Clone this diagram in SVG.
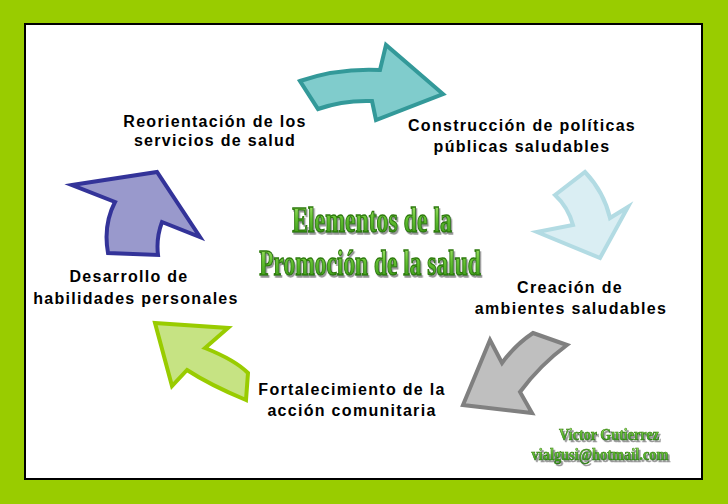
<svg xmlns="http://www.w3.org/2000/svg" width="728" height="504" viewBox="0 0 728 504">
<defs>
<linearGradient id="gw" x1="0" y1="0" x2="0" y2="1">
<stop offset="0" stop-color="#b4ec7c"/>
<stop offset="0.45" stop-color="#66c233"/>
<stop offset="1" stop-color="#2f8f12"/>
</linearGradient>
<filter id="sh" x="-10%" y="-20%" width="130%" height="160%">
<feDropShadow dx="2" dy="2" stdDeviation="0.6" flood-color="#8a8a8a" flood-opacity="0.9"/>
</filter>
</defs>
<style>
.lbl{font-family:"Liberation Sans",Arial,sans-serif;font-weight:bold;font-size:16px;letter-spacing:1.3px;fill:#000;text-anchor:middle}
.wa{font-family:"Liberation Serif","Times New Roman",serif;font-weight:bold;text-anchor:middle;fill:url(#gw);stroke:#2d7a0c;stroke-width:1.3;filter:url(#sh)}
.arr{stroke-linejoin:miter;stroke-width:4}
</style>
<rect x="0" y="0" width="728" height="504" fill="#99cc00"/>
<rect x="25" y="24" width="677" height="455" fill="#fff" stroke="#000" stroke-width="2"/>

<g id="connectors">
<path class="arr" d="M300,81 Q338,68 380,70 L386,45 L443,94 L376,120 L372,101 Q343,100 318,109 Z" fill="#80cccc" stroke="#339999"/>
<path class="arr" d="M555,195 L585,172 Q604,192 610,218 L628,207 L600,258 L537,232 L573,225 Q568,207 555,195 Z" fill="#daeef3" stroke="#b2dbe3"/>
<path class="arr" d="M533,333 L567,345 Q540,365 520,392 L532,413 L463,405 L490,340 L502,363 Q515,345 533,333 Z" fill="#bfbfbf" stroke="#808080"/>
<path class="arr" d="M155,323 L228,328 L205,348 Q235,360 248,373 L246,400 Q210,385 187,370 L172,386 Z" fill="#c6e383" stroke="#99cc00"/>
<path class="arr" d="M72,185 L157,172 L200,237 L162,222 Q156,238 158,255 L108,253 Q103,225 115,202 Z" fill="#9999cc" stroke="#333399"/>
</g>

<g id="n-reorientacion">
<text class="lbl" x="215" y="127">Reorientación de los</text>
<text class="lbl" x="215" y="146">servicios de salud</text>
</g>
<g id="n-construccion">
<text class="lbl" x="522" y="131">Construcción de políticas</text>
<text class="lbl" x="522" y="152">públicas saludables</text>
</g>
<g id="n-creacion">
<text class="lbl" x="570" y="293">Creación de</text>
<text class="lbl" x="571" y="314">ambientes saludables</text>
</g>
<g id="n-fortalecimiento">
<text class="lbl" x="352" y="395">Fortalecimiento de la</text>
<text class="lbl" x="352" y="416">acción comunitaria</text>
</g>
<g id="n-desarrollo">
<text class="lbl" x="129" y="282">Desarrollo de</text>
<text class="lbl" x="136" y="304">habilidades personales</text>
</g>

<g id="n-titulo">
<text class="wa" x="0" y="232" font-size="36" transform="translate(372,0) scale(0.66,1)">Elementos de la</text>
<text class="wa" x="0" y="275" font-size="36" transform="translate(370,0) scale(0.651,1)">Promoción de la salud</text>
</g>

<g id="n-autor">
<text class="wa" x="0" y="440" font-size="16" transform="translate(609,0) scale(0.885,1)" style="stroke-width:0.6">Victor Gutierrez</text>
<text class="wa" x="0" y="460" font-size="16" transform="translate(600,0) scale(0.9,1)" style="stroke-width:0.6">vialgusi@hotmail.com</text>
</g>
</svg>
